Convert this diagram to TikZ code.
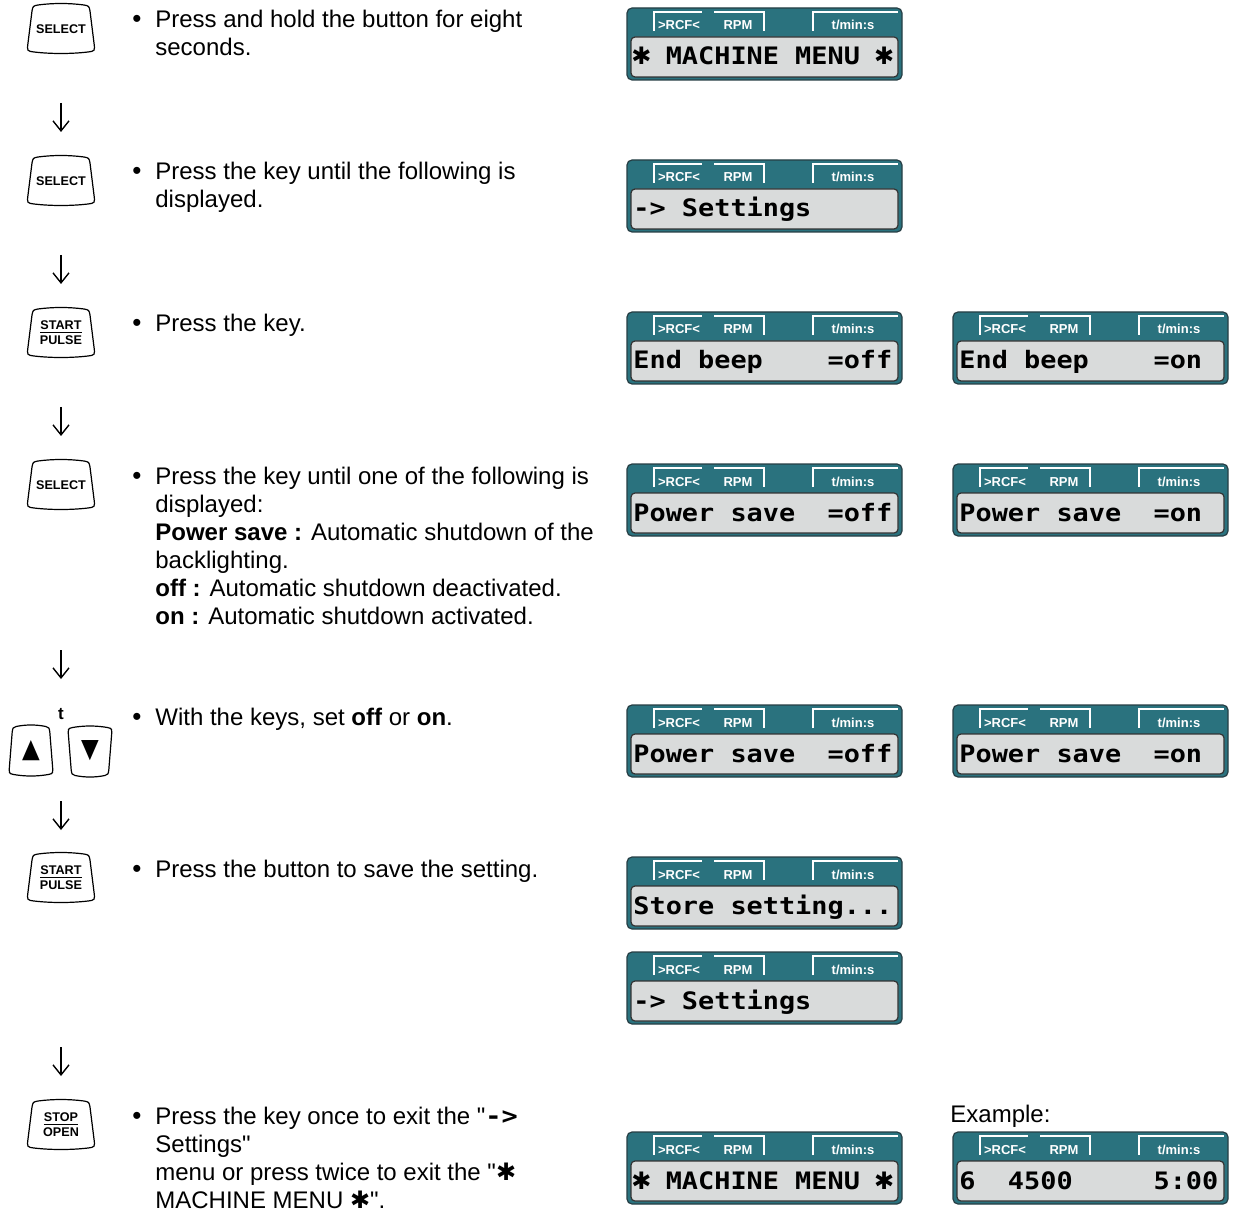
\documentclass[tikz,border=0pt]{standalone}
\usepackage{fontspec}
\usepackage{graphicx}
\setmainfont{Liberation Sans}[Ligatures=TeXOff]
\newfontfamily\lcdfont{DejaVu Sans Mono}[FakeStretch=1.12]
\newfontfamily\symfont{DejaVu Sans}
\usetikzlibrary{arrows.meta}
\definecolor{lcdteal}{RGB}{42,114,126}
\definecolor{lcdedge}{RGB}{38,62,68}
\definecolor{lcdgray}{RGB}{217,219,219}
\newcommand{\lcdstar}{\hbox to \fontcharwd\font`0{\hss{\symfont ✱}\hss}}
\tikzset{
  steptext/.style={anchor=base west,align=left,inner sep=0pt,font=\fontsize{12}{14}\selectfont},
  bulletmark/.style={anchor=base,inner sep=0pt,font=\fontsize{13}{14}\selectfont},
  stepflow/.style={-{Straight Barb[length=5pt,width=8pt]},line width=0.7pt},
  keyline/.style={draw=black,line width=0.6pt},
  keylabel/.style={align=center,inner sep=0pt,font=\fontsize{6.3}{7.5}\selectfont\bfseries},
  lcdcase/.style={fill=lcdteal,draw=lcdedge,line width=0.6pt,rounded corners=2.5pt},
  lcdmark/.style={white,line width=1.1pt},
  lcdlabel/.style={anchor=base,text=white,inner sep=0pt,font=\fontsize{6.5}{7}\selectfont\bfseries},
  lcdscreen/.style={fill=lcdgray,draw=black!80,line width=0.6pt,rounded corners=2pt},
  lcdtext/.style={anchor=base west,inner sep=0pt,font=\lcdfont\bfseries\fontsize{12}{12}\selectfont}
}
\newcommand{\lcd}[4]{%
  \begin{scope}[shift={(#1,#2)}]
    \draw[lcdcase] (0,0) rectangle (275,72);
    \draw[lcdmark] (27,23) |- (75,4);
    \draw[lcdmark] (87,4) -| (137,23);
    \draw[lcdmark] (186,23) |- (271,4);
    \node[lcdlabel] (#3-rcf) at (52,22) {>RCF<};
    \node[lcdlabel] (#3-rpm) at (111,22) {RPM};
    \node[lcdlabel] (#3-time) at (226,22) {t/min:s};
    \draw[lcdscreen] (4,29) rectangle (271,69);
    \node[lcdtext] (#3) at (6,57) {#4};
  \end{scope}%
}
\newcommand{\keycap}[6]{%
  \begin{scope}[shift={(#1,#2)},xscale=#3,yscale=#4]
    \draw[keyline] (-23,-24) .. controls (-8,-26) and (8,-26) .. (23,-24)
      .. controls (28,-23) .. (29,-18) -- (33,14)
      .. controls (34,22) .. (27,23)
      .. controls (10,25) and (-10,25) .. (-27,23)
      .. controls (-34,22) .. (-33,14) -- (-29,-18)
      .. controls (-28,-23) .. (-23,-24) -- cycle;
  \end{scope}
  \node[keylabel] (#5) at (#1,#2) {#6};%
}

\begin{document}
\begin{tikzpicture}[x=0.5pt,y=-0.5pt]
  \useasboundingbox (0,0) rectangle (1235,1213);

  \keycap{61}{29}{1}{1}{k1}{SELECT}
  \keycap{61}{181}{1}{1}{k2}{SELECT}
  \keycap{61}{333}{1}{1}{k3}{\underline{START}\\PULSE}
  \keycap{61}{485}{1}{1}{k4}{SELECT}
  \keycap{31}{751}{0.65}{1.02}{kup}{{\symfont\fontsize{11.5}{12}\selectfont\scalebox{1}[1.15]{▲}}}
  \keycap{90}{751}{0.65}{-1.02}{kdown}{{\symfont\fontsize{11.5}{12}\selectfont\scalebox{1}[1.15]{▼}}}
  \node[font=\fontsize{8.5}{9}\selectfont\bfseries] (tkey) at (61,714) {t};
  \keycap{61}{878}{1}{1}{k6}{\underline{START}\\PULSE}
  \keycap{61}{1125}{1}{1}{k7}{\underline{STOP}\\OPEN}

  \foreach \ya [count=\i] in {103,255,407,650,801,1047}{
    \coordinate (s\i) at (61,\ya);
    \coordinate (e\i) at (61,\ya+29);
    \draw[stepflow] (s\i) -- (e\i);
  }

  \foreach \yb [count=\i] in {28,180,332,484,725,877,1124}{
    \node[bulletmark] (b\i) at (137,\yb) {\textbullet};
  }
  \node[steptext] (t1) at (155,56) {Press and hold the button for eight\\seconds.};
  \node[steptext] (t2) at (155,208) {Press the key until the following is\\displayed.};
  \node[steptext] (t3) at (155,332) {Press the key.};
  \node[steptext] (t4) at (155,624) {Press the key until one of the following is\\displayed:\\\textbf{Power save :} Automatic shutdown of the\\backlighting.\\\textbf{off :} Automatic shutdown deactivated.\\\textbf{on :} Automatic shutdown activated.};
  \node[steptext] (t5) at (155,725) {With the keys, set \textbf{off} or \textbf{on}.};
  \node[steptext] (t6) at (155,877) {Press the button to save the setting.};
  \node[steptext] (t7) at (155,1208) {Press the key once to exit the "{\lcdfont\bfseries ->}\\Settings"\\menu or press twice to exit the "{\symfont ✱}\\MACHINE MENU {\symfont ✱}".};
  \node[steptext] (example) at (950,1122) {Example:};

  \lcd{627}{8}{d1}{\lcdstar~MACHINE~MENU~\lcdstar}
  \lcd{627}{160}{d2}{->~Settings}
  \lcd{627}{312}{d3}{End~beep~~~~=off}
  \lcd{953}{312}{d3b}{End~beep~~~~=on}
  \lcd{627}{464}{d4}{Power~save~~=off}
  \lcd{953}{464}{d4b}{Power~save~~=on}
  \lcd{627}{705}{d5}{Power~save~~=off}
  \lcd{953}{705}{d5b}{Power~save~~=on}
  \lcd{627}{857}{d6}{Store~setting...}
  \lcd{627}{952}{d7}{->~Settings}
  \lcd{627}{1132}{d8}{\lcdstar~MACHINE~MENU~\lcdstar}
  \lcd{953}{1132}{d9}{6~~4500~~~~~5:00}
\end{tikzpicture}
\end{document}
